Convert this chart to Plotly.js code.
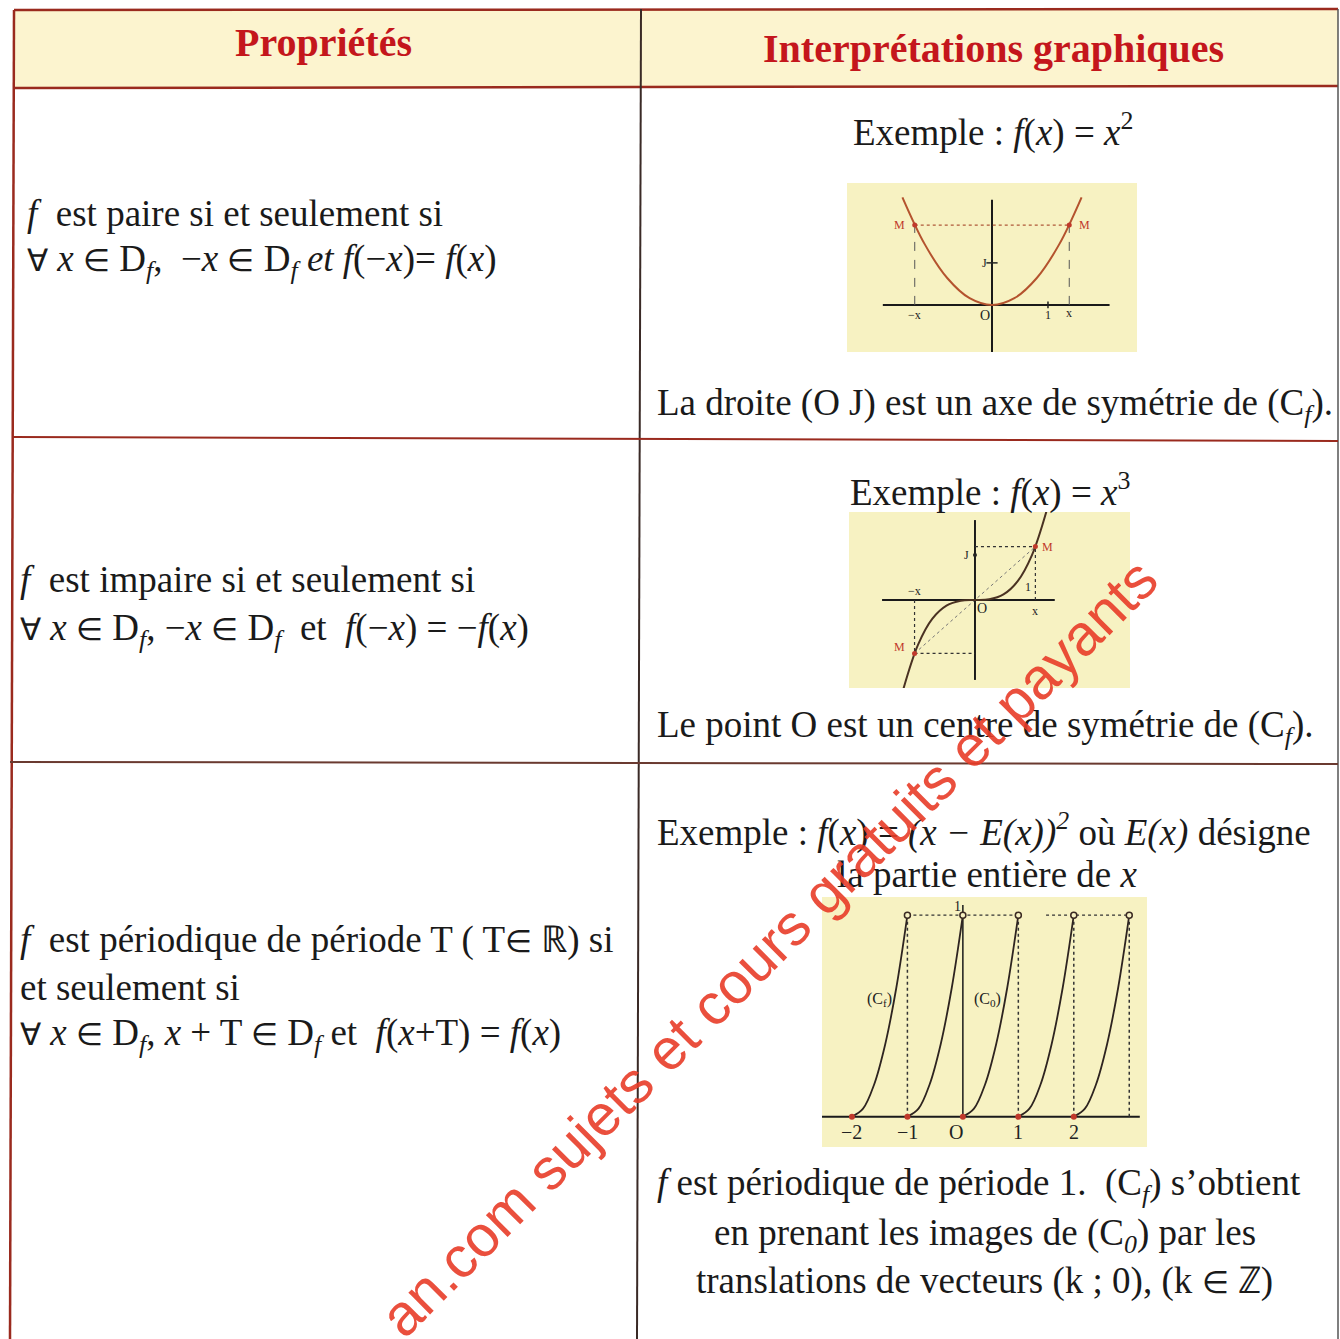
<!DOCTYPE html>
<html><head><meta charset="utf-8">
<script src="https://cdn.plot.ly/plotly-3.0.1.min.js"></script>
<style>html,body{margin:0;padding:0;background:#fff;}#chart{width:1340px;height:1339px;}</style>
</head><body><div id="chart"></div>
<script>
// ---------- DATA ----------
// Chart 1 : f(x) = x^2
const parabolaX = [-1.6, -1.2, -0.8, -0.4, 0, 0.4, 0.8, 1.2, 1.6];
const parabolaY = [2.56, 1.44, 0.64, 0.16, 0, 0.16, 0.64, 1.44, 2.56];
const pointM1X = [-1.38, 1.38];
const pointM1Y = [1.9, 1.9];
const axis1X = [-1.95, 2.1];
const axis1Y = [-1.12, 2.5];

// Chart 2 : f(x) = x^3
const cubicX = [-1.26, -1.0, -0.75, -0.5, -0.25, 0, 0.25, 0.5, 0.75, 1.0, 1.26];
const cubicY = [-2.0, -1.0, -0.42, -0.125, -0.016, 0, 0.016, 0.125, 0.42, 1.0, 2.0];
const pointM2X = [-1.06, 1.06];
const pointM2Y = [-1.19, 1.19];
const axis2X = [-1.63, 1.4];
const axis2Y = [-1.78, 1.78];

// Chart 3 : f(x) = (x - E(x))^2, five periods
const periodicX = [-2, -1.8, -1.6, -1.4, -1.2, -1.0, null,
                   -1, -0.8, -0.6, -0.4, -0.2, 0, null,
                    0, 0.2, 0.4, 0.6, 0.8, 1.0, null,
                    1, 1.2, 1.4, 1.6, 1.8, 2.0, null,
                    2, 2.2, 2.4, 2.6, 2.8, 3.0];
const periodicY = [0, 0.04, 0.16, 0.36, 0.64, 1, null,
                   0, 0.04, 0.16, 0.36, 0.64, 1, null,
                   0, 0.04, 0.16, 0.36, 0.64, 1, null,
                   0, 0.04, 0.16, 0.36, 0.64, 1, null,
                   0, 0.04, 0.16, 0.36, 0.64, 1];
const openEndsX = [-1, 0, 1, 2, 3];
const openEndsY = [1, 1, 1, 1, 1];
const startsX = [-2, -1, 0, 1, 2];
const startsY = [0, 0, 0, 0, 0];
const tickLabels3 = ['−2', '−1', 'O', '1', '2'];
const axis3X = [-2.54, 3.19];
const axis3Y = [0, 1.05];

// Table texts
const headers = ['Propriétés', 'Interprétations graphiques'];

// ---------- HELPERS ----------
const W = 1340, H = 1339;
const px = x => x / W;
const py = y => 1 - y / H;
const SERIF = 'Liberation Serif, Times New Roman, serif';
const FS = 37;
const EL = '<span style="font-size:31px">∈</span>';
const FA = '<span style="font-size:31px">∀</span>';
const annotations = [];
function txt(text, x, y, size, anchor, extra) {
  annotations.push(Object.assign({
    xref: 'paper', yref: 'paper', x: px(x), y: py(y), text: text,
    showarrow: false, xanchor: anchor || 'left', yanchor: 'middle',
    font: {family: SERIF, size: size || FS, color: '#1a1a1a'}
  }, extra || {}));
}
function lbl(axis, text, x, y, size, color) {
  annotations.push({
    xref: 'x' + axis, yref: 'y' + axis, x: x, y: y, text: text, showarrow: false,
    xanchor: 'center', yanchor: 'middle',
    font: {family: SERIF, size: size, color: color || '#222'}
  });
}

// ---------- TABLE SHAPES ----------
const BR = '#9a2a1e';
const shapes = [
  {type: 'rect', xref: 'paper', yref: 'paper', x0: px(14), x1: px(1338), y0: py(87), y1: py(9),
   fillcolor: '#fcf4cf', line: {width: 0}, layer: 'below'},
  {type: 'line', xref: 'paper', yref: 'paper', x0: px(14), x1: px(1338), y0: py(10), y1: py(9), line: {color: BR, width: 2.5}},
  {type: 'line', xref: 'paper', yref: 'paper', x0: px(14), x1: px(1338), y0: py(88), y1: py(86), line: {color: BR, width: 2.5}},
  {type: 'line', xref: 'paper', yref: 'paper', x0: px(14), x1: px(10), y0: py(10), y1: py(1339), line: {color: BR, width: 2.5}},
  {type: 'line', xref: 'paper', yref: 'paper', x0: px(1338), x1: px(1338), y0: py(9), y1: py(1339), line: {color: '#555', width: 1.5}},
  {type: 'line', xref: 'paper', yref: 'paper', x0: px(641), x1: px(637), y0: py(9), y1: py(1339), line: {color: '#3a2a26', width: 2}},
  {type: 'line', xref: 'paper', yref: 'paper', x0: px(12), x1: px(1338), y0: py(437), y1: py(441), line: {color: BR, width: 2}},
  {type: 'line', xref: 'paper', yref: 'paper', x0: px(10), x1: px(1338), y0: py(762), y1: py(764), line: {color: '#6a3a30', width: 2}}
];

// ---------- TEXTS ----------
const HDR = {family: 'Liberation Serif, Times New Roman, serif', size: 40, color: '#c4161c'};
txt('<b>' + headers[0] + '</b>', 323, 42, 40, 'center', {font: HDR});
txt('<b>' + headers[1] + '</b>', 993, 48, 40, 'center', {font: HDR});

txt('<i>f</i>  est paire si et seulement si', 25, 213);
txt(FA + ' <i>x</i> ' + EL + ' D<sub><i>f</i></sub>,  −<i>x</i> ' + EL + ' D<sub><i>f</i></sub> <i>et f</i>(−<i>x</i>)= <i>f</i>(<i>x</i>)', 25, 262);

txt('<i>f</i>  est impaire si et seulement si', 18, 580);
txt(FA + ' <i>x</i> ' + EL + ' D<sub><i>f</i></sub>, −<i>x</i> ' + EL + ' D<sub><i>f</i></sub>  et  <i>f</i>(−<i>x</i>) = −<i>f</i>(<i>x</i>)', 18, 630);

txt('<i>f</i>  est périodique de période T ( T' + EL + ' ℝ) si', 18, 940);
txt('et seulement si', 18, 987);
txt(FA + ' <i>x</i> ' + EL + ' D<sub><i>f</i></sub>, <i>x</i> + T ' + EL + ' D<sub><i>f</i></sub> et  <i>f</i>(<i>x</i>+T) = <i>f</i>(<i>x</i>)', 18, 1035);

txt('Exemple : <i>f</i>(<i>x</i>) = <i>x</i><sup>2</sup>', 993, 130, FS, 'center');
txt('La droite (O J) est un axe de symétrie de (C<sub><i>f</i></sub>).', 655, 405);

txt('Exemple : <i>f</i>(<i>x</i>) = <i>x</i><sup>3</sup>', 990, 490, FS, 'center');
txt('Le point O est un centre de symétrie de (C<sub><i>f</i></sub>).', 655, 727);

txt('Exemple : <i>f</i>(<i>x</i>) = <i>(x − E(x))<sup>2</sup></i> où <i>E(x)</i> désigne', 655, 830);
txt('la partie entière de <i>x</i>', 987, 874, FS, 'center');
txt('<i>f</i> est périodique de période 1.  (C<sub><i>f</i></sub>) s’obtient', 655, 1185);
txt('en prenant les images de (C<sub><i>0</i></sub>) par les', 985, 1235, FS, 'center');
txt('translations de vecteurs (k ; 0), (k ' + EL + ' ℤ)', 985, 1281, FS, 'center');

// watermark
annotations.push({xref: 'paper', yref: 'paper', x: px(768), y: py(947), text: 'an.com sujets et cours gratuits et payants',
  showarrow: false, textangle: -45, xanchor: 'center', yanchor: 'middle',
  font: {family: 'Liberation Sans, Arial, sans-serif', size: 58, color: 'rgba(232,60,40,0.9)'}});

// chart labels
const MC = '#c0392b';
lbl('', 'M', -1.66, 1.9, 12, MC); lbl('', 'M', 1.66, 1.9, 12, MC);
lbl('', 'J', -0.13, 1.0, 12); lbl('', '−x', -1.38, -0.25, 12); lbl('', 'O', -0.13, -0.25, 14);
lbl('', '1', 1.0, -0.25, 12); lbl('', 'x', 1.38, -0.2, 12);

lbl('2', 'J', -0.15, 1.0, 12); lbl('2', '−x', -1.06, 0.2, 12); lbl('2', 'O', 0.12, -0.18, 14);
lbl('2', '1', 0.93, 0.28, 12); lbl('2', 'x', 1.06, -0.25, 12);
lbl('2', 'M', 1.28, 1.19, 12, MC); lbl('2', 'M', -1.32, -1.05, 12, MC);

for (let i = 0; i < startsX.length; i++) lbl('3', tickLabels3[i], startsX[i] - (i === 2 ? 0.12 : 0), -0.075, 20);
lbl('3', '1', -0.1, 1.045, 14);
lbl('3', '(C<sub>f</sub>)', -1.5, 0.58, 16);
lbl('3', '(C<sub>0</sub>)', 0.45, 0.58, 16);

// ---------- TRACES ----------
const AX = {color: '#1a1a1a', width: 2};
const DOT = {color: '#333', width: 1.2, dash: 'dot'};
const traces = [
  // chart 1
  {x: axis1X, y: [0, 0], xaxis: 'x', yaxis: 'y', mode: 'lines', line: AX},
  {x: [0, 0], y: axis1Y, xaxis: 'x', yaxis: 'y', mode: 'lines', line: AX},
  {x: [pointM1X[0], pointM1X[1]], y: pointM1Y, xaxis: 'x', yaxis: 'y', mode: 'lines', line: {color: '#b05a3a', width: 1.2, dash: 'dot'}},
  {x: [pointM1X[0], pointM1X[0]], y: [0, pointM1Y[0]], xaxis: 'x', yaxis: 'y', mode: 'lines', line: {color: '#555', width: 1, dash: 'dash'}},
  {x: [pointM1X[1], pointM1X[1]], y: [0, pointM1Y[1]], xaxis: 'x', yaxis: 'y', mode: 'lines', line: {color: '#555', width: 1, dash: 'dash'}},
  {x: parabolaX, y: parabolaY, xaxis: 'x', yaxis: 'y', mode: 'lines', line: {color: '#b4532e', width: 2, shape: 'spline'}},
  {x: pointM1X, y: pointM1Y, xaxis: 'x', yaxis: 'y', mode: 'markers', marker: {color: MC, size: 5}},
  {x: [-0.1, 0.1], y: [1, 1], xaxis: 'x', yaxis: 'y', mode: 'lines', line: {color: '#222', width: 1.5}},
  {x: [1, 1], y: [-0.08, 0.08], xaxis: 'x', yaxis: 'y', mode: 'lines', line: {color: '#222', width: 1.5}},
  // chart 2
  {x: axis2X, y: [0, 0], xaxis: 'x2', yaxis: 'y2', mode: 'lines', line: AX},
  {x: [0, 0], y: axis2Y, xaxis: 'x2', yaxis: 'y2', mode: 'lines', line: AX},
  {x: [0, pointM2X[1]], y: [pointM2Y[1], pointM2Y[1]], xaxis: 'x2', yaxis: 'y2', mode: 'lines', line: DOT},
  {x: [pointM2X[1], pointM2X[1]], y: [0, pointM2Y[1]], xaxis: 'x2', yaxis: 'y2', mode: 'lines', line: DOT},
  {x: [pointM2X[0], 0], y: [pointM2Y[0], pointM2Y[0]], xaxis: 'x2', yaxis: 'y2', mode: 'lines', line: DOT},
  {x: [pointM2X[0], pointM2X[0]], y: [0, pointM2Y[0]], xaxis: 'x2', yaxis: 'y2', mode: 'lines', line: DOT},
  {x: pointM2X, y: pointM2Y, xaxis: 'x2', yaxis: 'y2', mode: 'lines', line: {color: '#777', width: 1, dash: 'dot'}},
  {x: cubicX, y: cubicY, xaxis: 'x2', yaxis: 'y2', mode: 'lines', line: {color: '#4a3222', width: 2, shape: 'spline'}},
  {x: pointM2X, y: pointM2Y, xaxis: 'x2', yaxis: 'y2', mode: 'markers', marker: {color: MC, size: 5}},
  {x: [0], y: [1], xaxis: 'x2', yaxis: 'y2', mode: 'markers', marker: {color: '#222', size: 4}},
  // chart 3
  {x: axis3X, y: [0, 0], xaxis: 'x3', yaxis: 'y3', mode: 'lines', line: AX},
  {x: [0, 0], y: axis3Y, xaxis: 'x3', yaxis: 'y3', mode: 'lines', line: {color: '#1a1a1a', width: 1.5}},
  {x: [openEndsX[0], openEndsX[2], null, 1.5, openEndsX[4]], y: [1, 1, null, 1, 1], xaxis: 'x3', yaxis: 'y3', mode: 'lines', line: {color: '#333', width: 1.3, dash: 'dot'}},
  {x: [-1, -1, null, 1, 1, null, 2, 2, null, 3, 3], y: [0, 1, null, 0, 1, null, 0, 1, null, 0, 1], xaxis: 'x3', yaxis: 'y3', mode: 'lines', line: {color: '#333', width: 1.5, dash: 'dot'}},
  {x: periodicX, y: periodicY, xaxis: 'x3', yaxis: 'y3', mode: 'lines', connectgaps: false, line: {color: '#2e2420', width: 1.8, shape: 'spline'}},
  {x: startsX, y: startsY, xaxis: 'x3', yaxis: 'y3', mode: 'markers', marker: {color: '#c0392b', size: 6}},
  {x: openEndsX, y: openEndsY, xaxis: 'x3', yaxis: 'y3', mode: 'markers', marker: {color: '#f7f2c4', size: 6, line: {color: '#3a2a22', width: 1.5}}}
];

const hidden = {showgrid: false, zeroline: false, showticklabels: false, showline: false, ticks: '', fixedrange: true};
const layout = {
  width: W, height: H, margin: {l: 0, r: 0, t: 0, b: 0},
  paper_bgcolor: '#ffffff', plot_bgcolor: '#f7f2c2', showlegend: false,
  xaxis: Object.assign({domain: [px(847), px(1137)], range: [-2.59, 2.59]}, hidden),
  yaxis: Object.assign({domain: [py(352), py(183)], range: [-1.12, 2.9]}, hidden),
  xaxis2: Object.assign({domain: [px(849), px(1130)], range: [-2.21, 2.72]}, hidden),
  yaxis2: Object.assign({domain: [py(688), py(512)], range: [-1.96, 1.96]}, hidden),
  xaxis3: Object.assign({domain: [px(822), px(1147)], range: [-2.54, 3.32]}, hidden),
  yaxis3: Object.assign({domain: [py(1147), py(897)], range: [-0.15, 1.09]}, hidden),
  shapes: shapes, annotations: annotations
};
Plotly.newPlot('chart', traces, layout, {staticPlot: true, displayModeBar: false});
</script></body></html>
